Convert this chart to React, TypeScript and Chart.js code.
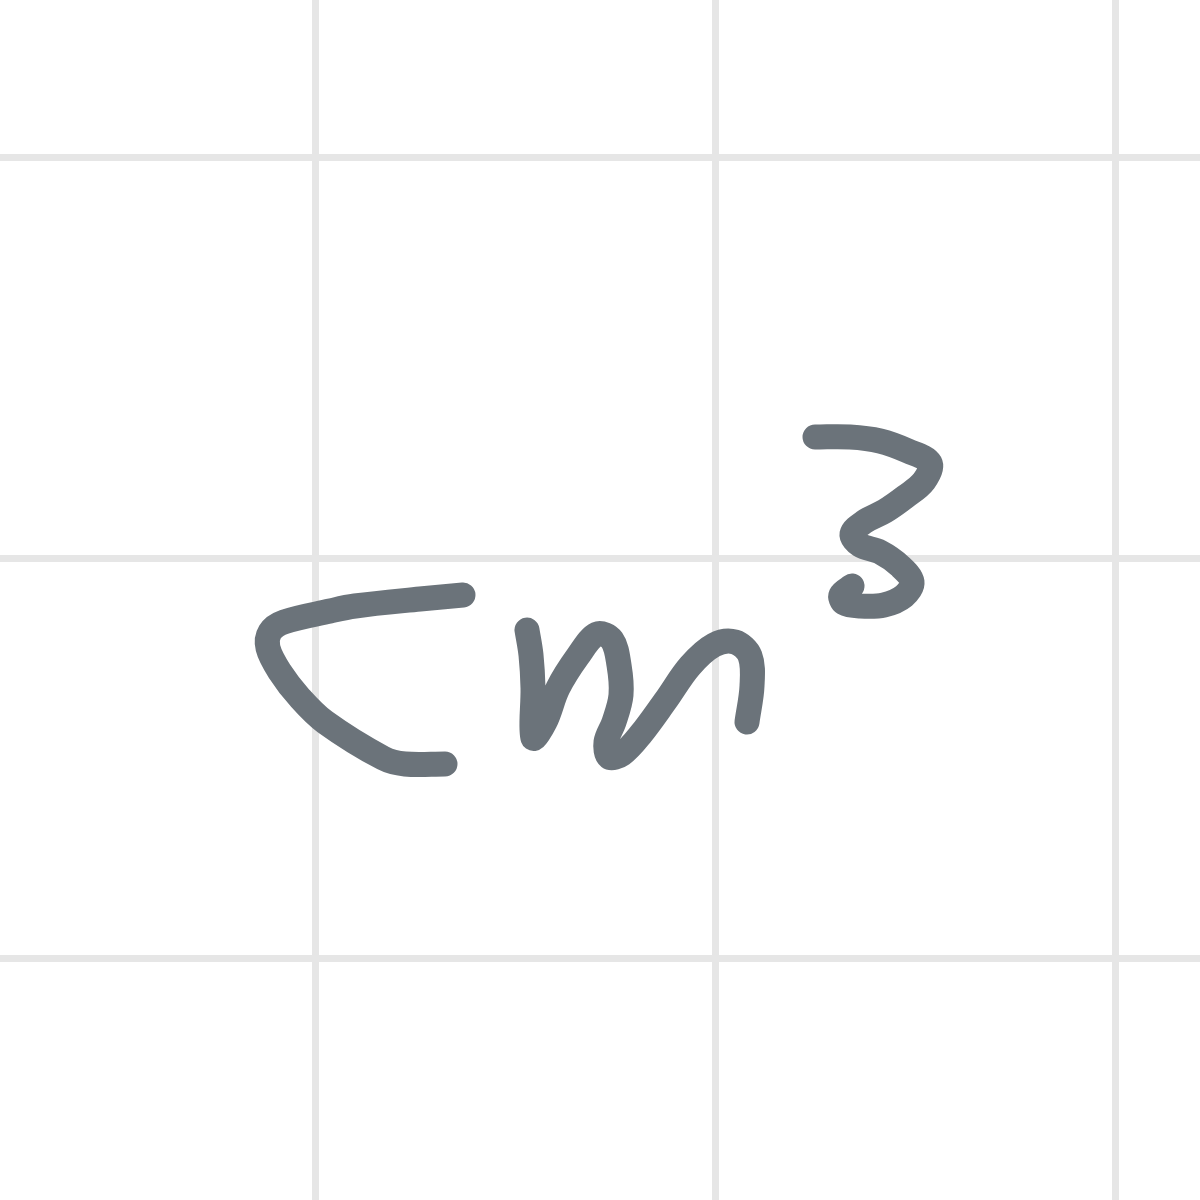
import React, { useEffect, useRef } from "react";
import { Chart, registerables } from "chart.js";
Chart.register(...registerables);

const gridTicks = [315, 715, 1115];
const gridTicksY = [158, 558, 958];
const strokeC = [
  { x: 463, y: 595 }, { x: 420, y: 599 }, { x: 355, y: 606 }, { x: 330, y: 611 },
  { x: 284, y: 622 }, { x: 270, y: 632 }, { x: 268, y: 648 }, { x: 280, y: 672 },
  { x: 300, y: 698 }, { x: 325, y: 722 }, { x: 383, y: 758 }, { x: 405, y: 764 }, { x: 445, y: 764 },
];
const strokeM = [
  { x: 527, y: 630 }, { x: 531, y: 655 }, { x: 533, y: 688 }, { x: 533, y: 738 },
  { x: 545, y: 722 }, { x: 558, y: 688 }, { x: 578, y: 656 }, { x: 597, y: 634 },
  { x: 612, y: 640 }, { x: 619, y: 665 }, { x: 621, y: 695 }, { x: 614, y: 722 },
  { x: 606, y: 742 }, { x: 609, y: 757 }, { x: 622, y: 754 }, { x: 641, y: 734 },
  { x: 666, y: 700 }, { x: 690, y: 666 }, { x: 714, y: 645 }, { x: 735, y: 642 },
  { x: 750, y: 656 }, { x: 752, y: 686 }, { x: 747, y: 722 },
];
const strokeThree = [
  { x: 815, y: 437 }, { x: 850, y: 437 }, { x: 880, y: 441 }, { x: 908, y: 451 },
  { x: 930, y: 463 }, { x: 924, y: 481 }, { x: 905, y: 497 }, { x: 885, y: 511 },
  { x: 864, y: 522 }, { x: 852, y: 534 }, { x: 860, y: 545 }, { x: 880, y: 552 },
  { x: 900, y: 566 }, { x: 912, y: 582 }, { x: 904, y: 596 }, { x: 884, y: 605 },
  { x: 860, y: 606 }, { x: 844, y: 603 }, { x: 841, y: 595 }, { x: 852, y: 586 },
];

export default function App() {
  const ref = useRef<HTMLCanvasElement>(null);
  useEffect(() => {
    const mk = (data: any[]) => ({
      data, showLine: true, borderColor: "#6b737a", borderWidth: 25,
      borderCapStyle: "round", borderJoinStyle: "round", pointRadius: 0, tension: 0.35, fill: false,
    });
    const chart = new Chart(ref.current!, {
      type: "scatter",
      data: { datasets: [mk(strokeC), mk(strokeM), mk(strokeThree)] as any },
      options: {
        animation: false, responsive: false, maintainAspectRatio: false,
        layout: { padding: 0 },
        plugins: { legend: { display: false }, tooltip: { enabled: false } },
        scales: {
          x: {
            type: "linear", min: 0, max: 1200,
            afterBuildTicks: (s: any) => { s.ticks = gridTicks.map((v) => ({ value: v })); },
            ticks: { display: false }, border: { display: false },
            grid: { color: "#e6e6e6", lineWidth: 7, drawTicks: false },
          },
          y: {
            type: "linear", min: 0, max: 1200, reverse: true,
            afterBuildTicks: (s: any) => { s.ticks = gridTicksY.map((v) => ({ value: v })); },
            ticks: { display: false }, border: { display: false },
            grid: { color: "#e6e6e6", lineWidth: 7, drawTicks: false },
          },
        },
      } as any,
    });
    return () => chart.destroy();
  }, []);
  return (
    <div style={{ position: "fixed", left: 0, top: 0, width: 1200, height: 1200, background: "#fff" }}>
      <canvas ref={ref} width={1200} height={1200} style={{ width: 1200, height: 1200 }} />
    </div>
  );
}
